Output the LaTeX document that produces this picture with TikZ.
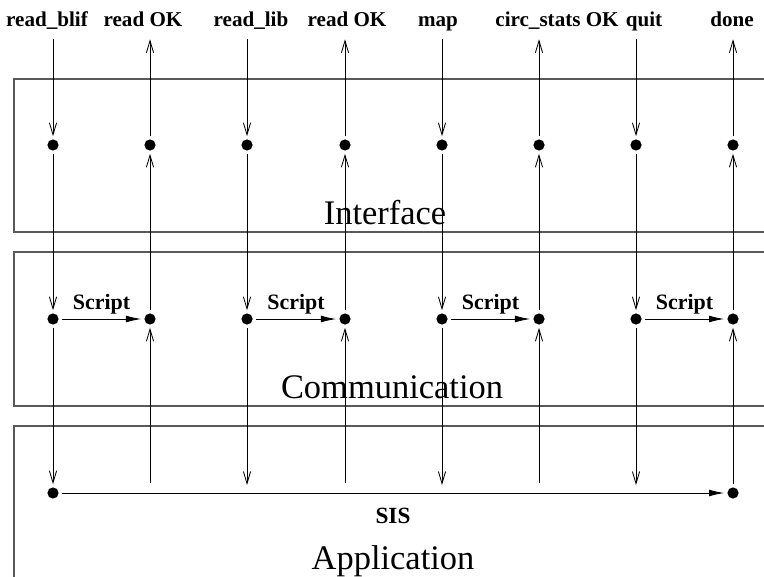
\documentclass[tikz,border=0pt]{standalone}
\usepackage{fontspec}
\setmainfont{Liberation Serif}
\usepackage{tikz}
\usetikzlibrary{arrows.meta,positioning,calc}

\begin{document}
\begin{tikzpicture}[
    x=0.025cm, y=-0.025cm,
    toplbl/.style={font=\fontsize{15}{18}\selectfont\bfseries, anchor=base, text depth=0.1cm, inner sep=0.2cm},
    layerlbl/.style={font=\fontsize{24.5}{29}\selectfont, anchor=base, inner sep=0pt},
    msglbl/.style={font=\fontsize{15.6}{18}\selectfont\bfseries},
    dotnode/.style={circle, fill=black, inner sep=0pt, minimum size=0.28cm, outer sep=0.08cm},
    layer/.style={line width=1pt, draw=black!65},
    flow/.style={-{Straight Barb[length=0.3cm,width=0.18cm]}, line width=0.6pt},
    push/.style={-{Latex[length=0.38cm,width=0.17cm]}, line width=0.6pt}
]
    \useasboundingbox (0,0) rectangle (764,577);

    % layers
    \draw[layer] (764,79) -- (14,79) -- (14,232) -- (764,232);
    \draw[layer] (764,252) -- (14,252) -- (14,406) -- (764,406);
    \draw[layer] (764,426) -- (14,426) -- (14,577);
    \node[layerlbl] (iface) at (385,225) {Interface};
    \node[layerlbl] (comm) at (392,398) {Communication};
    \node[layerlbl] (appl) at (393,569) {Application};

    % commands and replies
    \node[toplbl] (tblif) at (47,27) {read\_blif};
    \node[toplbl] (tok1) at (143,27) {read OK};
    \node[toplbl] (tlib) at (251,27) {read\_lib};
    \node[toplbl] (tok2) at (347,27) {read OK};
    \node[toplbl] (tmap) at (438,27) {map};
    \node[toplbl] (tstats) at (557,27) {circ\_stats OK};
    \node[toplbl] (tquit) at (644,27) {quit};
    \node[toplbl] (tdone) at (732,27) {done};

    % interface points
    \node[dotnode] (i1) at (53,145) {};
    \node[dotnode] (i2) at (150,145) {};
    \node[dotnode] (i3) at (247,145) {};
    \node[dotnode] (i4) at (345,145) {};
    \node[dotnode] (i5) at (442,145) {};
    \node[dotnode] (i6) at (539,145) {};
    \node[dotnode] (i7) at (636,145) {};
    \node[dotnode] (i8) at (733,145) {};

    % communication points
    \node[dotnode] (c1) at (53,319) {};
    \node[dotnode] (c2) at (150,319) {};
    \node[dotnode] (c3) at (247,319) {};
    \node[dotnode] (c4) at (345,319) {};
    \node[dotnode] (c5) at (442,319) {};
    \node[dotnode] (c6) at (539,319) {};
    \node[dotnode] (c7) at (636,319) {};
    \node[dotnode] (c8) at (733,319) {};

    % application
    \node[dotnode] (a1) at (53,493) {};
    \node[dotnode] (a8) at (733,493) {};
    \coordinate (a2) at (150,483);
    \coordinate (a3) at (247,485);
    \coordinate (a4) at (345,483);
    \coordinate (a5) at (442,485);
    \coordinate (a6) at (539,483);
    \coordinate (a7) at (636,485);

    % requests going down
    \draw[flow] (i1 |- tblif.south) -- (i1);
    \draw[flow] (i1) -- (c1);
    \draw[flow] (c1) -- (a1);
    \draw[flow] (i3 |- tlib.south) -- (i3);
    \draw[flow] (i3) -- (c3);
    \draw[flow] (c3) -- (a3);
    \draw[flow] (i5 |- tmap.south) -- (i5);
    \draw[flow] (i5) -- (c5);
    \draw[flow] (c5) -- (a5);
    \draw[flow] (i7 |- tquit.south) -- (i7);
    \draw[flow] (i7) -- (c7);
    \draw[flow] (c7) -- (a7);

    % replies going up
    \draw[flow] (a2) -- (c2);
    \draw[flow] (c2) -- (i2);
    \draw[flow] (i2) -- (i2 |- tok1.south);
    \draw[flow] (a4) -- (c4);
    \draw[flow] (c4) -- (i4);
    \draw[flow] (i4) -- (i4 |- tok2.south);
    \draw[flow] (a6) -- (c6);
    \draw[flow] (c6) -- (i6);
    \draw[flow] (i6) -- (i6 |- tstats.south);
    \draw[flow] (a8) -- (c8);
    \draw[flow] (c8) -- (i8);
    \draw[flow] (i8) -- (i8 |- tdone.south);

    % scripts and SIS run
    \draw[push] (c1) -- node[msglbl, above] {Script} (c2);
    \draw[push] (c3) -- node[msglbl, above] {Script} (c4);
    \draw[push] (c5) -- node[msglbl, above] {Script} (c6);
    \draw[push] (c7) -- node[msglbl, above] {Script} (c8);
    \draw[push] (a1) -- node[msglbl, font=\fontsize{16.5}{19}\selectfont\bfseries, below=0.25cm] {SIS} (a8);
\end{tikzpicture}
\end{document}
